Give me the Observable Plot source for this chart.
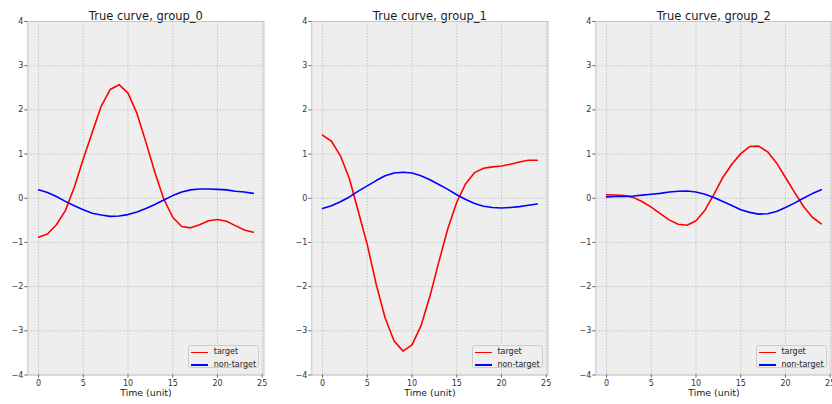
<!DOCTYPE html>
<html>
<head>
<meta charset="utf-8">
<script src="https://cdn.jsdelivr.net/npm/d3@7"></script>
<script src="https://cdn.jsdelivr.net/npm/@observablehq/plot@0.6"></script>
<style>
  body { margin: 0; background: #ffffff; font-family: "DejaVu Sans", sans-serif; }
  #chart { position: relative; width: 832px; height: 404px; overflow: hidden; }
  .panel { position: absolute; top: 0; }
  .legend {
    position: absolute; box-sizing: border-box; width: 71px; height: 23px;
    border: 1px solid #cccccc; border-radius: 2.5px; background: rgba(238,238,238,0.8);
    font-size: 8px; color: #262626; padding-top: 0.3px;
  }
  .legend .row { display: flex; align-items: center; height: 12.3px; }
  .legend .swatch { width: 17px; height: 1.6px; margin-left: 1.8px; flex: none; }
  .legend .lab { margin-left: 5.7px; line-height: 1; white-space: nowrap; }
</style>
</head>
<body>
<div id="chart"></div>
<script>
// Time steps shared by every group
const time = [0, 1, 2, 3, 4, 5, 6, 7, 8, 9, 10, 11, 12, 13, 14, 15, 16, 17, 18, 19, 20, 21, 22, 23, 24];

// True curves per group
const target0    = [-0.88, -0.81, -0.60, -0.28, 0.25, 0.89, 1.49, 2.08, 2.46, 2.57, 2.38, 1.92, 1.27, 0.59, -0.02, -0.43, -0.64, -0.67, -0.60, -0.51, -0.48, -0.52, -0.62, -0.72, -0.77];
const nonTarget0 = [0.19, 0.13, 0.04, -0.07, -0.17, -0.26, -0.34, -0.38, -0.41, -0.40, -0.37, -0.31, -0.23, -0.14, -0.04, 0.06, 0.14, 0.19, 0.21, 0.21, 0.20, 0.19, 0.16, 0.14, 0.11];

const target1    = [1.43, 1.29, 0.96, 0.44, -0.30, -1.05, -1.95, -2.71, -3.23, -3.46, -3.32, -2.89, -2.22, -1.44, -0.69, -0.09, 0.33, 0.58, 0.68, 0.71, 0.73, 0.77, 0.82, 0.86, 0.86];
const nonTarget1 = [-0.23, -0.17, -0.08, 0.03, 0.16, 0.28, 0.40, 0.51, 0.57, 0.59, 0.57, 0.51, 0.42, 0.31, 0.20, 0.08, -0.03, -0.12, -0.18, -0.21, -0.22, -0.21, -0.19, -0.16, -0.13];

const target2    = [0.08, 0.075, 0.06, 0.02, -0.08, -0.20, -0.35, -0.49, -0.59, -0.61, -0.51, -0.27, 0.09, 0.47, 0.77, 1.01, 1.17, 1.18, 1.05, 0.80, 0.47, 0.14, -0.18, -0.43, -0.58];
const nonTarget2 = [0.03, 0.04, 0.04, 0.05, 0.07, 0.09, 0.11, 0.14, 0.16, 0.165, 0.14, 0.09, 0.015, -0.075, -0.165, -0.26, -0.32, -0.36, -0.35, -0.30, -0.21, -0.11, 0.0, 0.105, 0.19];

const groupNames = ["group_0", "group_1", "group_2"];
const seriesNames = ["target", "non-target"];
const seriesColors = ["#ff0000", "#0000ff"];
const xTicks = [0, 5, 10, 15, 20, 25];
const yTicks = [-4, -3, -2, -1, 0, 1, 2, 3, 4];
const xLabel = "Time (unit)";
const titlePrefix = "True curve, ";

const groupSeries = [
  [target0, nonTarget0],
  [target1, nonTarget1],
  [target2, nonTarget2]
];

// Layout of the three side-by-side panels
const panelLeft = [0, 283.6, 567.6];
const marginLeft = 27.3, marginRight = 2, plotWidth = 236.2;
const svgWidth = marginLeft + plotWidth + marginRight;

const chart = document.getElementById("chart");
const gridStyle = { stroke: "#bdbdbd", strokeOpacity: 1, strokeWidth: 0.8, strokeDasharray: "1.5,1.5" };

groupNames.forEach((name, g) => {
  const rows = [];
  seriesNames.forEach((s, k) => {
    groupSeries[g][k].forEach((v, i) => rows.push({ t: time[i], v, series: s }));
  });

  const svg = Plot.plot({
    width: svgWidth,
    height: 404,
    marginLeft, marginRight,
    marginTop: 21,
    marginBottom: 29.5,
    x: { domain: [-1.2, 25.2] },
    y: { domain: [-4, 4] },
    color: { domain: seriesNames, range: seriesColors },
    style: { fontFamily: "DejaVu Sans", fontSize: "8px", color: "#333333", background: "transparent", overflow: "visible" },
    marks: [
      Plot.frame({ fill: "#eeeeee" }),
      Plot.gridX(xTicks, gridStyle),
      Plot.gridY(yTicks, gridStyle),
      Plot.line(rows, { x: "t", y: "v", z: "series", stroke: "series", strokeWidth: 1.6 }),
      Plot.frame({ stroke: "#c4c4c4", strokeWidth: 1 }),
      Plot.axisX(xTicks, { tickSize: 3, tickPadding: 2, label: null, stroke: "#666666" }),
      Plot.axisY(yTicks, { tickSize: 3, tickPadding: 1.5, label: null, stroke: "#666666" }),
      Plot.text([titlePrefix + name], { text: d => d, frameAnchor: "top", dy: -10, fontSize: 11.5, fill: "#1a1a1a" }),
      Plot.text([xLabel], { text: d => d, frameAnchor: "bottom", dy: 20.5, fontSize: 9.4, fill: "#1a1a1a" })
    ]
  });
  svg.classList.add("panel");
  svg.style.left = panelLeft[g] + "px";
  chart.appendChild(svg);

  // Line legend in the lower-right corner of each panel
  const legend = document.createElement("div");
  legend.className = "legend";
  legend.style.left = (panelLeft[g] + marginLeft + plotWidth - 75.2) + "px";
  legend.style.top = "345px";
  seriesNames.forEach((s, k) => {
    const row = document.createElement("div");
    row.className = "row";
    const sw = document.createElement("span");
    sw.className = "swatch";
    sw.style.background = seriesColors[k];
    const lab = document.createElement("span");
    lab.className = "lab";
    lab.textContent = s;
    row.append(sw, lab);
    legend.appendChild(row);
  });
  chart.appendChild(legend);
});
</script>
</body>
</html>
